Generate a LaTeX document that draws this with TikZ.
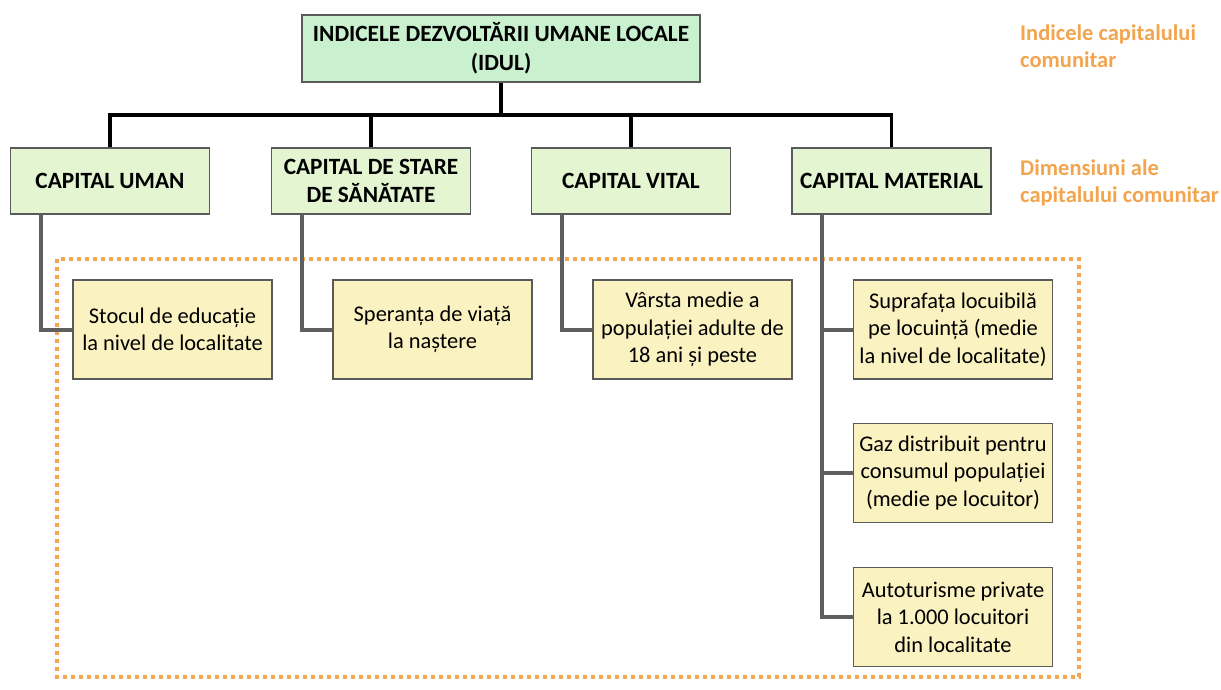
\documentclass[tikz,border=0pt]{standalone}
\usepackage{fontspec}
\setmainfont{Carlito}
\usepackage{xcolor}
\usepackage{tikz}
\usetikzlibrary{positioning}
\definecolor{idulgreen}{HTML}{C9F1CF}
\definecolor{dimgreen}{HTML}{E3F5D1}
\definecolor{indyellow}{HTML}{FAF2C0}
\definecolor{boxgray}{HTML}{5A5A5A}
\definecolor{linkgray}{HTML}{5F5F5F}
\definecolor{noteorange}{HTML}{F2A54E}

\tikzset{
    box/.style={draw=boxgray, line width=1.3pt, minimum width=199pt, align=center, inner sep=0pt},
    topbox/.style={box, fill=idulgreen, minimum width=398pt, minimum height=67pt,
                   font=\fontsize{23.3}{29}\selectfont\bfseries},
    dimbox/.style={box, fill=dimgreen, minimum height=66pt,
                   font=\fontsize{23.3}{28}\selectfont\bfseries},
    indbox/.style={box, fill=indyellow, minimum height=99pt,
                   font=\fontsize{22.4}{27.5}\selectfont},
    tree/.style={line width=3.5pt, black},
    branch/.style={line width=4pt, linkgray},
    note/.style={anchor=west, align=left, inner sep=0pt, text=noteorange,
                 font=\fontsize{22.5}{27}\selectfont\bfseries},
    dotframe/.style={draw=noteorange, line width=3.5pt, dash pattern=on 4pt off 4pt}
}

\begin{document}
\begin{tikzpicture}[x=1pt, y=-1pt]
    \useasboundingbox (0,0) rectangle (1221,689);

    \node[topbox] (idul) at (501,48.5) {INDICELE DEZVOLTĂRII UMANE LOCALE\\(IDUL)};

    \node[dimbox] (uman)     at (110,181) {CAPITAL UMAN};
    \node[dimbox] (sanatate) at (371,181) {CAPITAL DE STARE\\DE SĂNĂTATE};
    \node[dimbox] (vital)    at (631,181) {CAPITAL VITAL};
    \node[dimbox] (material) at (891.5,181) {CAPITAL MATERIAL};

    \node[note] (lblindice) at (1020,46.5) {Indicele capitalului\\comunitar};
    \node[note] (lbldimens) at (1020,183) {Dimensiuni ale\\capitalului comunitar};

    \draw[dotframe] (57,259) rectangle (1079,677);

    \node[indbox] (stoc)      at (172.5,329.5) {Stocul de educație\\la nivel de localitate};
    \node[indbox] (speranta)  at (432.5,329.5) {Speranța de viață\\la naștere};
    \node[indbox] (varsta)    at (692.5,329.5) {Vârsta medie a\\populației adulte de\\18 ani și peste};
    \node[indbox] (suprafata) at (953,329.5) {Suprafața locuibilă\\pe locuință (medie\\la nivel de localitate)};
    \node[indbox] (gaz)       at (953,473) {Gaz distribuit pentru\\consumul populației\\(medie pe locuitor)};
    \node[indbox] (auto)      at (953,617) {Autoturisme private\\la 1.000 locuitori\\din localitate};

    % arborele de sus
    \coordinate (bar) at (501,115);
    \draw[tree] (idul.south) -- (idul.south |- bar);
    \draw[tree] (uman.north) -- (uman.north |- bar) -- (material.north |- bar) -- (material.north);
    \draw[tree] (sanatate.north) -- (sanatate.north |- bar);
    \draw[tree] (vital.north) -- (vital.north |- bar);

    % legaturi catre indicatori
    \draw[branch] ([xshift=31pt]uman.south west) |- (stoc.west);
    \draw[branch] ([xshift=31pt]sanatate.south west) |- (speranta.west);
    \draw[branch] ([xshift=31pt]vital.south west) |- (varsta.west);
    \coordinate (matx) at ([xshift=31pt]material.south west);
    \draw[branch] (matx) |- (auto.west);
    \draw[branch] (suprafata.west) -- (suprafata.west -| matx);
    \draw[branch] (gaz.west) -- (gaz.west -| matx);
\end{tikzpicture}
\end{document}
